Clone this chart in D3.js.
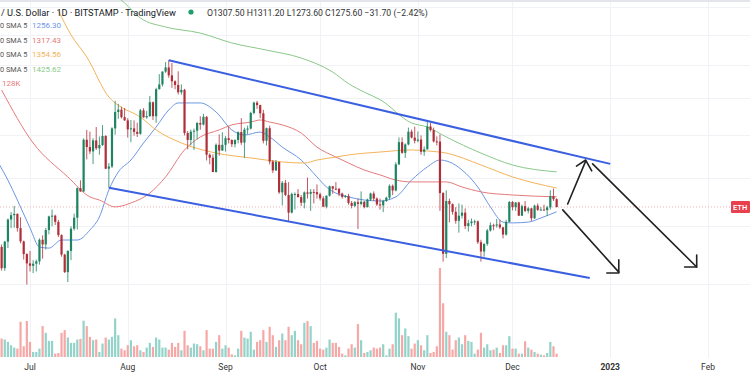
<!DOCTYPE html>
<html><head><meta charset="utf-8">
<script src="https://cdn.jsdelivr.net/npm/d3@7"></script>
<style>body{margin:0;background:#fff}svg{display:block;font-family:Roboto,"Open Sans",sans-serif}</style>
</head><body><svg id="c" width="750" height="375"></svg>
<script>
// ---------------- data ----------------
const firstDay = "2022-06-21";
const opens = [1127,1124,1051,1143,1226,1243,1248,1193,1144,1099,
1067,1059,1066,1074,1150,1133,1186,1238,1241,1217,1167,1097,1038,1110,1191,1233,1354,1340,1578,1542,1521,1575,1536,1552,1597,1440,1450,1636,1723,1736,1695,
1678,1631,1636,1618,1608,1732,1694,1701,1777,1700,1852,1880,1958,1984,1935,1899,1877,1834,1848,1612,1577,1619,1624,1664,1656,1697,1505,1491,1425,1553,1525,
1553,1586,1577,1556,1577,1617,1564,1630,1635,1718,1775,1761,1716,1573,1637,1473,1432,1471,1336,1377,1325,1253,1329,1329,1316,1293,1336,1330,1338,1337,
1328,1311,1277,1322,1362,1352,1351,1331,1317,1321,1292,1280,1295,1288,1297,1275,1306,1331,1310,1286,1282,1300,1314,1364,1344,1460,1566,1514,1555,1619,1589,
1573,1579,1519,1531,1646,1627,1570,1569,1333,1100,1300,1287,1256,1221,1241,1253,1201,1212,1218,1219,1141,1108,1135,1184,1204,1203,1207,1196,1169,1217,
1296,1275,1294,1241,1279,1260,1270,1231,1281,1264,1265,1263,1274,1320,1307.5];
const highs = [1176,1133,1146,1230,1255,1280,1250,1235,1147,1102,
1110,1078,1080,1155,1166,1194,1241,1265,1245,1225,1170,1100,1112,1200,1249,1357,1388,1585,1628,1619,1586,1643,1594,1653,1601,1466,1642,1785,1768,1752,1745,
1690,1680,1678,1665,1740,1744,1729,1813,1781,1860,1942,1960,2018,2030,2012,1905,1960,1880,1854,1622,1630,1635,1670,1700,1713,1701,1512,1507,1560,1605,1616,
1596,1645,1580,1580,1620,1690,1640,1650,1725,1780,1785,1763,1735,1640,1650,1480,1480,1472,1385,1390,1380,1335,1336,1350,1325,1340,1400,1350,1350,1370,
1335,1320,1323,1365,1363,1380,1355,1335,1325,1330,1300,1300,1310,1340,1300,1310,1335,1340,1315,1310,1305,1318,1370,1370,1470,1590,1590,1560,1640,1630,1645,
1620,1600,1545,1675,1665,1640,1595,1605,1337,1345,1310,1290,1275,1290,1285,1270,1225,1230,1225,1222,1150,1137,1190,1215,1210,1228,1225,1198,1225,1300,
1300,1295,1297,1285,1300,1275,1272,1285,1290,1275,1285,1280,1345,1352,1311.2];
const lows = [1095,1043,1042,1120,1193,1195,1180,1137,1080,998,
1040,1035,1040,1063,1083,1115,1170,1200,1205,1160,1090,1035,1006,1078,1184,1188,1338,1338,1483,1508,1461,1528,1505,1547,1438,1356,1443,1604,1686,1688,1675,
1589,1566,1599,1592,1603,1692,1687,1696,1680,1665,1850,1868,1950,1920,1860,1852,1821,1820,1600,1531,1550,1528,1580,1629,1651,1478,1460,1424,1422,1500,1524,
1520,1560,1542,1540,1560,1553,1490,1607,1630,1710,1740,1690,1560,1550,1460,1420,1430,1330,1282,1320,1220,1250,1265,1315,1280,1270,1310,1260,1290,1310,
1302,1275,1270,1318,1330,1345,1320,1310,1312,1285,1270,1275,1190,1282,1270,1274,1300,1300,1280,1265,1255,1296,1306,1325,1340,1456,1510,1490,1550,1585,1560,
1565,1505,1500,1530,1620,1565,1550,1260,1073,1085,1215,1245,1210,1176,1230,1190,1180,1200,1205,1135,1073,1090,1128,1180,1185,1195,1190,1155,1165,1215,
1262,1260,1240,1240,1255,1250,1220,1228,1260,1262,1262,1240,1265,1300,1273.6];
const closes = [1124,1051,1143,1226,1243,1248,1193,1144,1099,1067,
1059,1066,1074,1150,1133,1186,1238,1241,1217,1167,1097,1038,1110,1191,1233,1354,1340,1578,1542,1521,1575,1536,1552,1597,1440,1450,1636,1723,1736,1695,1678,
1631,1636,1618,1608,1732,1694,1701,1777,1700,1852,1880,1958,1984,1935,1899,1877,1834,1848,1612,1577,1619,1624,1664,1656,1697,1505,1491,1425,1553,1525,1553,
1586,1577,1556,1577,1617,1564,1630,1635,1718,1775,1761,1716,1573,1637,1473,1432,1471,1336,1377,1325,1253,1329,1329,1316,1293,1336,1330,1338,1337,1328,
1311,1277,1322,1362,1352,1351,1331,1317,1321,1292,1280,1295,1288,1297,1275,1306,1331,1310,1286,1282,1300,1314,1364,1344,1460,1566,1514,1555,1619,1589,1573,
1579,1519,1531,1646,1627,1570,1569,1333,1100,1300,1287,1256,1221,1241,1253,1201,1212,1218,1219,1141,1108,1135,1184,1204,1203,1207,1196,1169,1217,1296,
1275,1294,1241,1279,1260,1270,1231,1281,1264,1265,1263,1274,1320,1307.5,1275.6];
const volumes = [105,55,52,45,35,28,25,105,32,107,
45,15,15,25,92,72,48,48,10,12,72,80,58,42,42,52,54,108,92,60,50,52,15,40,58,52,60,115,65,25,20,
35,50,32,35,20,15,28,42,30,58,52,28,28,22,42,30,42,20,78,35,28,40,38,32,20,80,25,25,45,65,25,
35,28,8,5,25,78,58,55,75,22,45,50,80,45,90,65,30,50,70,50,90,65,78,50,38,102,107,92,42,48,
25,22,28,52,42,42,30,10,5,25,38,28,98,50,12,15,20,28,25,28,38,5,25,38,132,115,65,85,62,25,40,
50,35,20,65,12,15,32,265,160,75,65,22,50,58,38,65,48,45,10,22,72,28,38,20,22,28,12,35,35,62,
25,25,10,10,47,28,22,15,10,7,5,12,45,32,10];

// moving averages: [date, value]
const sma20 = [["2022-06-21",1466],["2022-06-24",1389],["2022-06-27",1304],["2022-07-01",1194],["2022-07-04",1124],["2022-07-07",1120],["2022-07-11",1149],["2022-07-16",1149],["2022-07-20",1186],["2022-07-23",1236],["2022-07-26",1346],["2022-07-29",1425],["2022-08-02",1480],["2022-08-06",1562],["2022-08-10",1643],["2022-08-14",1734],["2022-08-17",1773],["2022-08-24",1773],["2022-08-29",1723],["2022-09-03",1628],["2022-09-07",1602],["2022-09-12",1617],["2022-09-15",1592],["2022-09-19",1542],["2022-09-25",1480],["2022-09-30",1403],["2022-10-03",1359],["2022-10-06",1333],["2022-10-10",1317],["2022-10-15",1304],["2022-10-20",1300],["2022-10-25",1317],["2022-10-30",1389],["2022-11-04",1448],["2022-11-08",1480],["2022-11-11",1471],["2022-11-15",1434],["2022-11-20",1359],["2022-11-24",1276],["2022-11-28",1216],["2022-12-01",1213],["2022-12-06",1216],["2022-12-10",1232],["2022-12-15",1256.3]];
const sma50 = [["2022-06-22",1847],["2022-07-02",1562],["2022-07-13",1403],["2022-07-20",1317],["2022-07-23",1304],["2022-07-28",1276],["2022-08-02",1292],["2022-08-08",1333],["2022-08-13",1403],["2022-08-19",1528],["2022-08-24",1592],["2022-08-30",1628],["2022-09-03",1654],["2022-09-09",1669],["2022-09-12",1680],["2022-09-15",1669],["2022-09-19",1654],["2022-09-25",1612],["2022-09-30",1542],["2022-10-06",1494],["2022-10-10",1466],["2022-10-15",1434],["2022-10-20",1412],["2022-10-25",1389],["2022-10-30",1381],["2022-11-04",1381],["2022-11-10",1381],["2022-11-15",1359],["2022-11-21",1338],["2022-12-01",1325],["2022-12-15",1317.43]];
const sma100 = [["2022-07-10",2375],["2022-07-14",2200],["2022-07-19",2051],["2022-07-26",1807],["2022-07-29",1760],["2022-08-05",1696],["2022-08-10",1628],["2022-08-18",1562],["2022-08-29",1513],["2022-09-09",1490],["2022-09-19",1471],["2022-09-26",1466],["2022-09-30",1480],["2022-10-06",1494],["2022-10-10",1504],["2022-10-20",1518],["2022-10-30",1528],["2022-11-04",1523],["2022-11-10",1513],["2022-11-21",1457],["2022-12-01",1403],["2022-12-15",1354.56]];
const sma200 = [["2022-07-28",2494],["2022-07-31",2433],["2022-08-05",2320],["2022-08-13",2255],["2022-08-24",2212],["2022-09-03",2144],["2022-09-14",2096],["2022-09-25",2044],["2022-10-05",1955],["2022-10-10",1885],["2022-10-15",1835],["2022-10-20",1792],["2022-10-30",1664],["2022-11-04",1643],["2022-11-10",1592],["2022-11-21",1513],["2022-12-01",1457],["2022-12-15",1425.62]];

// channel lines and hand-drawn arrows: [date, price]
const upperChannel = [["2022-08-14",2030],["2023-01-01",1462]];
const lowerChannel = [["2022-07-26",1356],["2022-12-25T12:00",1019]];
const arrowUp = [[["2022-12-18T12:00",1288],["2022-12-24T05:00",1475]],[["2022-12-21T07:00",1452],["2022-12-24T05:00",1480],["2022-12-26T03:00",1430]]];
const arrowLong = [[["2022-12-26T10:00",1462],["2023-01-28T10:00",1055]],[["2023-01-28T10:00",1096],["2023-01-28T10:00",1055],["2023-01-24T14:00",1055]]];
const arrowShort = [[["2022-12-16T22:30",1264],["2023-01-03T17:00",1038]],[["2023-01-03T17:00",1079],["2023-01-03T17:00",1035],["2022-12-30T22:00",1035]]];

const monthTicks = ["2022-07-01","2022-08-01","2022-09-01","2022-10-01","2022-11-01","2022-12-01","2023-01-01","2023-02-01"];
const monthLabels = ["Jul","Aug","Sep","Oct","Nov","Dec","2023","Feb"];
const priceGrid = [1000,1200,1400,1600,1800,2000,2200,2400];

const legendNames = ["0 SMA 5","0 SMA 5","0 SMA 5","0 SMA 5"];
const legendValues = ["1256.30","1317.43","1354.56","1425.62"];
const volumeLabel = "128K";
const headerTitle = "/ U.S. Dollar · 1D · BITSTAMP · TradingView";
const headerOHLC = "O1307.50  H1311.20  L1273.60  C1275.60  \u221231.70 (\u22122.42%)";
const symbolTag = "ETH";
const lastClose = 1275.6;

// ---------------- drawing ----------------
const svg = d3.select("#c");
const W = 750, H = 375;
const parse = s => new Date(s.length > 10 ? s : s + "T00:00");
const start = parse(firstDay);
const candles = closes.map((c, i) => ({d: d3.timeDay.offset(start, i), o: opens[i], h: highs[i], l: lows[i], c: c, v: volumes[i]}));

const x = d3.scaleTime().domain([parse("2022-07-01"), parse("2023-02-01")]).range([30, 708]);
const y = d3.scaleLog().domain([1000, 2000]).range([283.9, 64.9]);
const yv = d3.scaleLinear().domain([0, d3.max(volumes)]).range([357, 268]);

const up = "#1f8462", down = "#b02e38";
const vUp = "#93d3ca", vDown = "#f6a8a6";

svg.append("rect").attr("width", W).attr("height", H).attr("fill", "#fff");
svg.append("defs").append("clipPath").attr("id", "plot").append("rect").attr("x", 0).attr("y", 0).attr("width", W).attr("height", 358);

// grid
const grid = svg.append("g").attr("stroke", "#f0f2f6").attr("stroke-width", 1);
grid.selectAll("line.v").data(monthTicks).join("line")
  .attr("x1", d => Math.round(x(parse(d))) + 0.5).attr("x2", d => Math.round(x(parse(d))) + 0.5)
  .attr("y1", 0).attr("y2", 358);
grid.selectAll("line.h").data(priceGrid).join("line")
  .attr("x1", 0).attr("x2", W)
  .attr("y1", d => Math.round(y(d)) + 0.5).attr("y2", d => Math.round(y(d)) + 0.5);

// top band
svg.append("rect").attr("x", 0).attr("y", 0).attr("width", W).attr("height", 2).attr("fill", "#e3e5ea");

const plot = svg.append("g").attr("clip-path", "url(#plot)");

// volume
plot.append("g").selectAll("rect").data(candles).join("rect")
  .attr("x", d => x(d.d) - 1.1).attr("width", 2.2)
  .attr("y", d => yv(d.v)).attr("height", d => 357 - yv(d.v))
  .attr("fill", d => d.c >= d.o ? vUp : vDown);

// price line
plot.append("line").attr("x1", 0).attr("x2", 732).attr("y1", y(lastClose)).attr("y2", y(lastClose))
  .attr("stroke", "#f0b4b4").attr("stroke-width", 1).attr("stroke-dasharray", "1,2");

// moving averages
const line = d3.line().x(d => x(parse(d[0]))).y(d => y(d[1])).curve(d3.curveMonotoneX);
const maColors = ["#6c97e4", "#e57b7b", "#f3b45a", "#8ac98a"];
[sma20, sma50, sma100, sma200].forEach((s, i) => {
  plot.append("path").attr("d", line(s)).attr("fill", "none").attr("stroke", maColors[i]).attr("stroke-width", 1);
});

// candles
const cg = plot.append("g");
cg.selectAll("line").data(candles).join("line")
  .attr("x1", d => x(d.d)).attr("x2", d => x(d.d))
  .attr("y1", d => y(d.h)).attr("y2", d => y(d.l))
  .attr("stroke", d => d.c >= d.o ? up : down).attr("stroke-width", 0.8);
cg.selectAll("rect").data(candles).join("rect")
  .attr("x", d => x(d.d) - 1.1).attr("width", 2.2)
  .attr("y", d => y(Math.max(d.o, d.c)))
  .attr("height", d => Math.max(1, Math.abs(y(d.o) - y(d.c))))
  .attr("fill", d => d.c >= d.o ? up : down);

// channel
const straight = d3.line().x(d => x(parse(d[0]))).y(d => y(d[1]));
[upperChannel, lowerChannel].forEach(c => {
  plot.append("path").attr("d", straight(c)).attr("stroke", "#3a5fe0").attr("stroke-width", 2).attr("fill", "none");
});
// arrows
[arrowUp, arrowLong, arrowShort].forEach(a => a.forEach(seg => {
  plot.append("path").attr("d", straight(seg)).attr("stroke", "#222").attr("stroke-width", 1.6)
    .attr("fill", "none").attr("stroke-linejoin", "round").attr("stroke-linecap", "round");
}));

// last price label at right edge
const ly = y(lastClose);
svg.append("rect").attr("x", 731).attr("y", ly - 6).attr("width", 19).attr("height", 12).attr("rx", 1).attr("fill", "#e8404e");
svg.append("text").attr("x", 733).attr("y", ly + 3).attr("font-size", 7.5).attr("fill", "#fff").attr("font-weight", 600).text(symbolTag);

// time axis
svg.append("g").selectAll("text").data(monthTicks).join("text")
  .attr("x", d => x(parse(d))).attr("y", 370).attr("text-anchor", "middle")
  .attr("font-size", 8.5).attr("fill", "#333")
  .attr("font-weight", (d, i) => monthLabels[i] === "2023" ? 700 : 400)
  .text((d, i) => monthLabels[i]);

// header
const hdr = svg.append("g");
hdr.append("text").attr("x", 1).attr("y", 15.5).attr("font-size", 9.2).attr("fill", "#131722").text(headerTitle);
hdr.append("circle").attr("cx", 191).attr("cy", 12).attr("r", 2.6).attr("fill", "#1e9e6e");
hdr.append("text").attr("x", 207).attr("y", 15.5).attr("fill", "#333").attr("font-size", 8.7).text(headerOHLC);

// legend
const leg = svg.append("g");
legendNames.forEach((n, i) => {
  const yy = 28 + i * 14.5;
  leg.append("text").attr("x", 0).attr("y", yy).attr("font-size", 7.3).attr("fill", "#555").text(n);
  leg.append("text").attr("x", 32).attr("y", yy).attr("font-size", 8).attr("fill", maColors[i]).text(legendValues[i]);
});
leg.append("text").attr("x", 2).attr("y", 86).attr("font-size", 8).attr("fill", "#e57b7b").text(volumeLabel);
</script></body></html>
